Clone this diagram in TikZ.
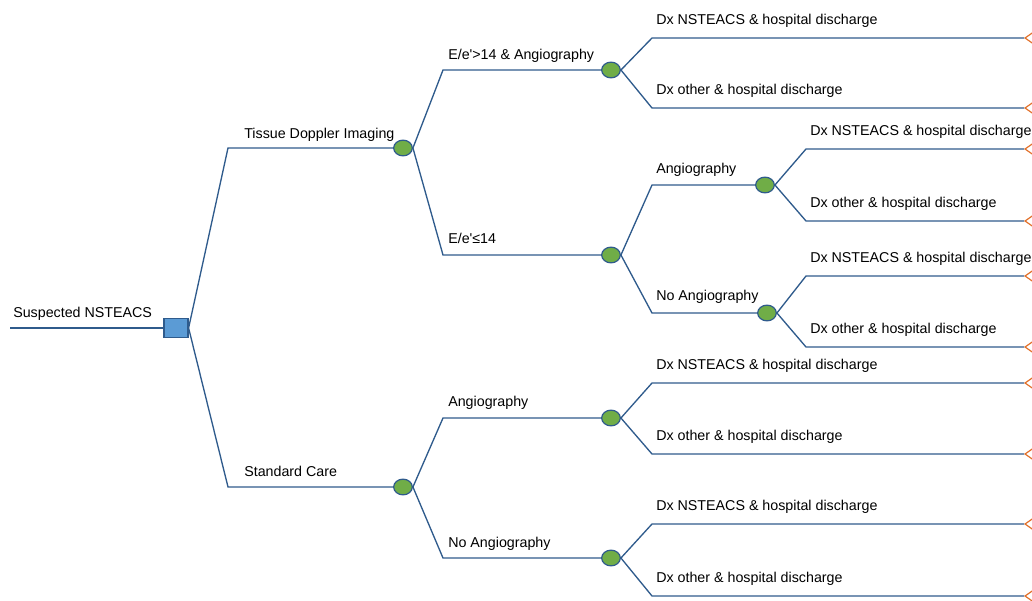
\documentclass[tikz,border=0pt]{standalone}
\usepackage{fontspec}
\setmainfont{Liberation Sans}[Ligatures=TeXOff]
\usetikzlibrary{shapes.geometric}
\definecolor{edge}{HTML}{2F5B8C}
\definecolor{chancefill}{HTML}{70AD47}
\definecolor{decfill}{HTML}{5B9BD5}
\definecolor{termcol}{HTML}{E2702A}
\tikzset{
  branch/.style={draw=edge, line width=1pt},
  chance/.style={ellipse, draw=edge, fill=chancefill, line width=0.9pt, minimum width=14pt, minimum height=11.8pt, inner sep=0pt},
  decision/.style={rectangle, draw=edge, fill=decfill, line width=0.9pt, minimum width=18pt, minimum height=14.2pt, inner sep=0pt},
  terminal/.style={isosceles triangle, shape border rotate=180, draw=termcol, line width=0.9pt, minimum height=9pt, minimum width=9pt, isosceles triangle apex angle=70, inner sep=0pt, anchor=apex},
  lab/.style={anchor=base west, inner sep=0pt, font=\fontsize{10.7pt}{12pt}\selectfont}
}
\begin{document}
\begin{tikzpicture}[x=0.75pt,y=-0.75pt]
\useasboundingbox (0,0) rectangle (1032,600);
% root
\coordinate (start) at (10,328);
\node[decision] (d) at (176,328) {};
\draw[branch] (start) -- (d.west);
\node[lab] (ldn) at (13,317) {Suspected NSTEACS};
% corners
\coordinate (k1) at (228,148);
\coordinate (k2) at (228,487);
\coordinate (k3) at (443,70);
\coordinate (k4) at (443,255);
\coordinate (k5) at (652,185);
\coordinate (k6) at (652,313);
\coordinate (k7) at (443,418);
\coordinate (k8) at (443,558);
% chance nodes
\node[chance] (c1) at (403,148) {};
\node[chance] (c2) at (403,487) {};
\node[chance] (c3) at (611,70) {};
\node[chance] (c4) at (611,255) {};
\node[chance] (c5) at (765,185) {};
\node[chance] (c6) at (767,313) {};
\node[chance] (c7) at (611,418) {};
\node[chance] (c8) at (611,558) {};
\draw[branch] (d.east) -- (k1) -- (c1.west);
\draw[branch] (d.east) -- (k2) -- (c2.west);
\draw[branch] (c1.east) -- (k3) -- (c3.west);
\draw[branch] (c1.east) -- (k4) -- (c4.west);
\draw[branch] (c4.east) -- (k5) -- (c5.west);
\draw[branch] (c4.east) -- (k6) -- (c6.west);
\draw[branch] (c2.east) -- (k7) -- (c7.west);
\draw[branch] (c2.east) -- (k8) -- (c8.west);
\node[lab] (l1) at (244,138) {Tissue Doppler Imaging};
\node[lab] (l2) at (244,476) {Standard Care};
\node[lab] (l3) at (448,59) {E/e'>14 \& Angiography};
\node[lab] (l4) at (448,243) {E/e'≤14};
\node[lab] (l5) at (656,173) {Angiography};
\node[lab] (l6) at (656,300) {No Angiography};
\node[lab] (l7) at (448,406) {Angiography};
\node[lab] (l8) at (448,547) {No Angiography};
% terminal branches
\foreach \p/\n/\x/\y/\t in {c3/a/652/38/Dx NSTEACS \& hospital discharge,
                             c3/b/652/108/Dx other \& hospital discharge,
                             c5/c/806/149/Dx NSTEACS \& hospital discharge,
                             c5/d/806/221/Dx other \& hospital discharge,
                             c6/e/806/276/Dx NSTEACS \& hospital discharge,
                             c6/f/806/347/Dx other \& hospital discharge,
                             c7/g/652/383/Dx NSTEACS \& hospital discharge,
                             c7/h/652/454/Dx other \& hospital discharge,
                             c8/i/652/524/Dx NSTEACS \& hospital discharge,
                             c8/j/652/596/Dx other \& hospital discharge}{
  \coordinate (k\n) at (\x,\y);
  \node[terminal] (t\n) at (1024,\y) {};
  \draw[branch] (\p.east) -- (k\n) -- (t\n.apex);
  \node[lab] (lt\n) at (\x+4,\y-14) {\t};
}
\end{tikzpicture}
\end{document}
